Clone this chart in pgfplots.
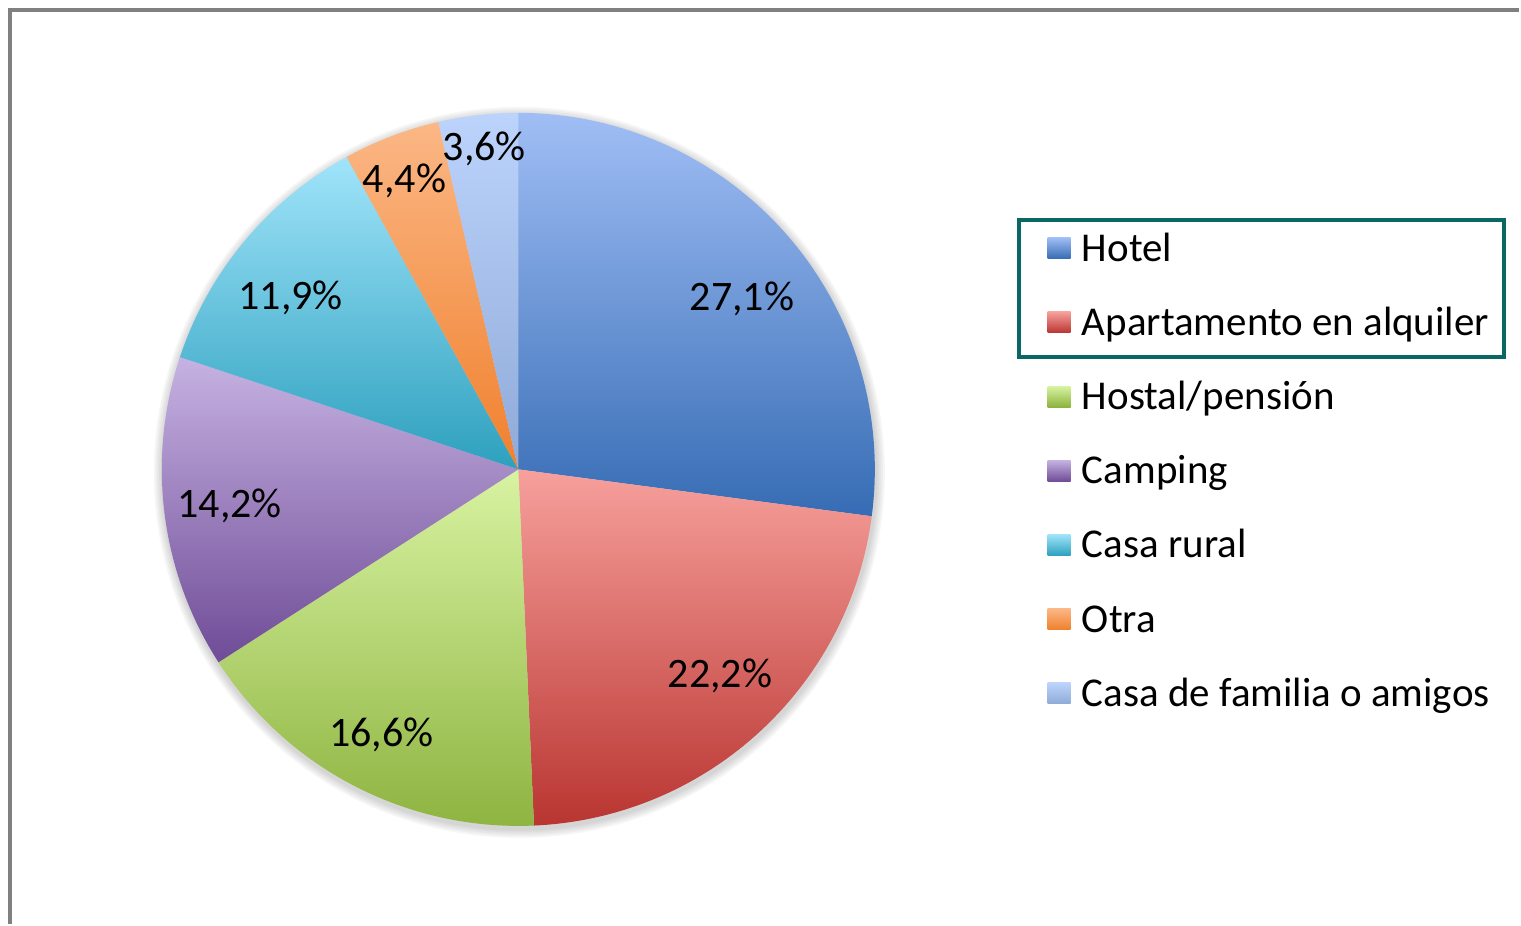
\documentclass[border=0pt]{standalone}
\usepackage{pgfplots}
\pgfplotsset{compat=1.18}
\usepackage{pgfplotstable}
\usepackage{fontspec}
\setmainfont{Carlito}

% slice colours: top / bottom of the vertical gradient
\definecolor{sliceT0}{RGB}{160,190,245}\definecolor{sliceB0}{RGB}{54,108,180}
\definecolor{sliceT1}{RGB}{247,160,156}\definecolor{sliceB1}{RGB}{185,53,49}
\definecolor{sliceT2}{RGB}{216,243,162}\definecolor{sliceB2}{RGB}{141,179,63}
\definecolor{sliceT3}{RGB}{198,178,226}\definecolor{sliceB3}{RGB}{111,76,151}
\definecolor{sliceT4}{RGB}{160,228,250}\definecolor{sliceB4}{RGB}{45,160,190}
\definecolor{sliceT5}{RGB}{251,183,133}\definecolor{sliceB5}{RGB}{240,128,45}
\definecolor{sliceT6}{RGB}{188,212,252}\definecolor{sliceB6}{RGB}{143,170,216}
\definecolor{boxteal}{RGB}{10,104,100}
\definecolor{framegray}{RGB}{128,128,128}

\newcommand\labelfont{\fontsize{21}{25}\selectfont}
\newcommand\legfont{\fontsize{20.5}{24}\selectfont}

% value in %, label position (px, baseline, from top of picture)
\pgfplotstableread[col sep=comma]{
name,value,lx,ly
Hotel,27.1,743,311
Apartamento en alquiler,22.2,721,688
Hostal/pensión,16.6,382,747
Camping,14.2,230,518
Casa rural,11.9,291,310
Otra,4.4,405,193
Casa de familia o amigos,3.6,485,161
}\piedata

\begin{document}
\begin{tikzpicture}
% cumulative angles, clockwise from 12 o'clock
\def\curang{90}
\pgfplotsforeachungrouped \i in {0,...,6}{%
  \pgfplotstablegetelem{\i}{value}\of\piedata \let\v\pgfplotsretval
  \pgfmathsetmacro\nextang{\curang-3.6*\v}%
  \expandafter\xdef\csname pA\i\endcsname{\curang}%
  \expandafter\xdef\csname pB\i\endcsname{\nextang}%
  \expandafter\xdef\csname pV\i\endcsname{\v}%
  \pgfplotstablegetelem{\i}{lx}\of\piedata
  \expandafter\xdef\csname pX\i\endcsname{\pgfplotsretval}%
  \pgfplotstablegetelem{\i}{ly}\of\piedata
  \pgfmathsetmacro\tmp{925-\pgfplotsretval}%
  \expandafter\xdef\csname pY\i\endcsname{\tmp}%
  \pgfplotstablegetelem{\i}{name}\of\piedata
  \expandafter\xdef\csname pN\i\endcsname{\pgfplotsretval}%
  \pgfmathsetmacro\tmp{925-(248.5+74.3*\i)}%
  \expandafter\xdef\csname pL\i\endcsname{\tmp}%
  \let\curang\nextang
}
\begin{axis}[
    scale only axis,
    width=760.5pt, height=462.5pt,
    xmin=0, xmax=1521, ymin=0, ymax=925,
    hide axis, clip=false
]
\path (axis cs:0,0) rectangle (axis cs:1521,925);
% outer frame
\draw[framegray, line width=2pt] (axis cs:10,0) -- (axis cs:10,915) -- (axis cs:1521,915);
% soft shadow
\pgfplotsinvokeforeach{1,...,5}{
  \fill[black, opacity=0.035] (axis cs:520,452) circle[radius={178.5pt+#1*0.9pt}];
}
% slices
\pgfplotsinvokeforeach{0,...,6}{%
  \edef\temp{\noexpand\path[top color=sliceT#1, bottom color=sliceB#1]
    (axis cs:519,455) -- ++(\csname pA#1\endcsname:178.5pt)
    arc[start angle=\csname pA#1\endcsname, end angle=\csname pB#1\endcsname, radius=178.5pt] -- cycle;}%
  \temp
}
% data labels
\pgfplotsinvokeforeach{0,...,6}{%
  \edef\temp{\noexpand\node[anchor=base, inner sep=0pt, font=\noexpand\labelfont]
    at (axis cs:\csname pX#1\endcsname,\csname pY#1\endcsname)
    {\noexpand\pgfmathprintnumber[fixed,precision=1,fixed zerofill,use comma,assume math mode=true]{\csname pV#1\endcsname}\noexpand\%};}%
  \temp
}
% legend
\pgfplotsinvokeforeach{0,...,6}{%
  \edef\temp{\noexpand\path[top color=sliceT#1, bottom color=sliceB#1]
    (axis cs:1049,\csname pL#1\endcsname-10.5) rectangle (axis cs:1072,\csname pL#1\endcsname+10.5);}%
  \temp
  \edef\temp{\noexpand\node[anchor=base west, inner sep=0pt, font=\noexpand\legfont]
    at (axis cs:1083,\csname pL#1\endcsname-13) {\csname pN#1\endcsname};}%
  \temp
}
\draw[boxteal, line width=2pt] (axis cs:1020,705) rectangle (axis cs:1506,568);
\end{axis}
\end{tikzpicture}
\end{document}
